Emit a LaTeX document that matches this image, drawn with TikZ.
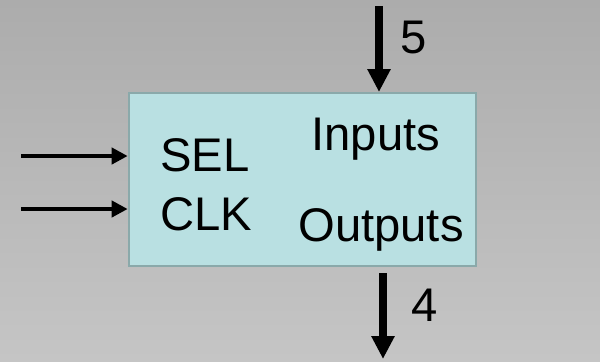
\documentclass[tikz,border=0pt]{standalone}
\usepackage{fontspec}
\setmainfont{Liberation Sans}
\usetikzlibrary{arrows.meta}
\definecolor{bgtop}{HTML}{ACACAC}
\definecolor{bgbot}{HTML}{C5C5C5}
\definecolor{boxfill}{HTML}{B9E0E2}
\definecolor{boxline}{HTML}{8AA9AA}
\begin{document}
\begin{tikzpicture}[x=0.5pt,y=-0.5pt,
  lbl/.style={inner sep=0pt, anchor=base west, font=\fontsize{23.6}{28}\selectfont},
  bigarrow/.style={line width=4pt, -{Triangle[length=11.5pt,width=11pt]}},
  smallarrow/.style={line width=2pt, -{Triangle[length=8pt,width=8pt]}}]
\shade[top color=bgtop, bottom color=bgbot] (0,0) rectangle (600,361);
\useasboundingbox (0,0) rectangle (600,361);
\node[draw=boxline, line width=1pt, fill=boxfill, inner sep=0pt, anchor=north west,
      minimum width=173.5pt, minimum height=86.5pt] (box) at (127.7,92) {};
\coordinate (topstart) at (379,6);
\coordinate (botend) at (383,359);
\coordinate (selstart) at (21,156);
\coordinate (clkstart) at (21,209);
\draw[bigarrow] (topstart) -- (topstart |- box.north);
\draw[bigarrow] (box.south -| botend) ++(0,6) -- (botend);
\draw[smallarrow] (selstart) -- (selstart -| box.west);
\draw[smallarrow] (clkstart) -- (clkstart -| box.west);
\node[lbl] (sel) at (160,171.7) {SEL};
\node[lbl] (clk) at (160,230) {CLK};
\node[lbl] (inputs) at (311,150) {Inputs};
\node[lbl] (outputs) at (298,241.7) {Outputs};
\node[lbl] (five) at (400,53) {5};
\node[lbl] (four) at (411,321) {4};
\end{tikzpicture}
\end{document}
